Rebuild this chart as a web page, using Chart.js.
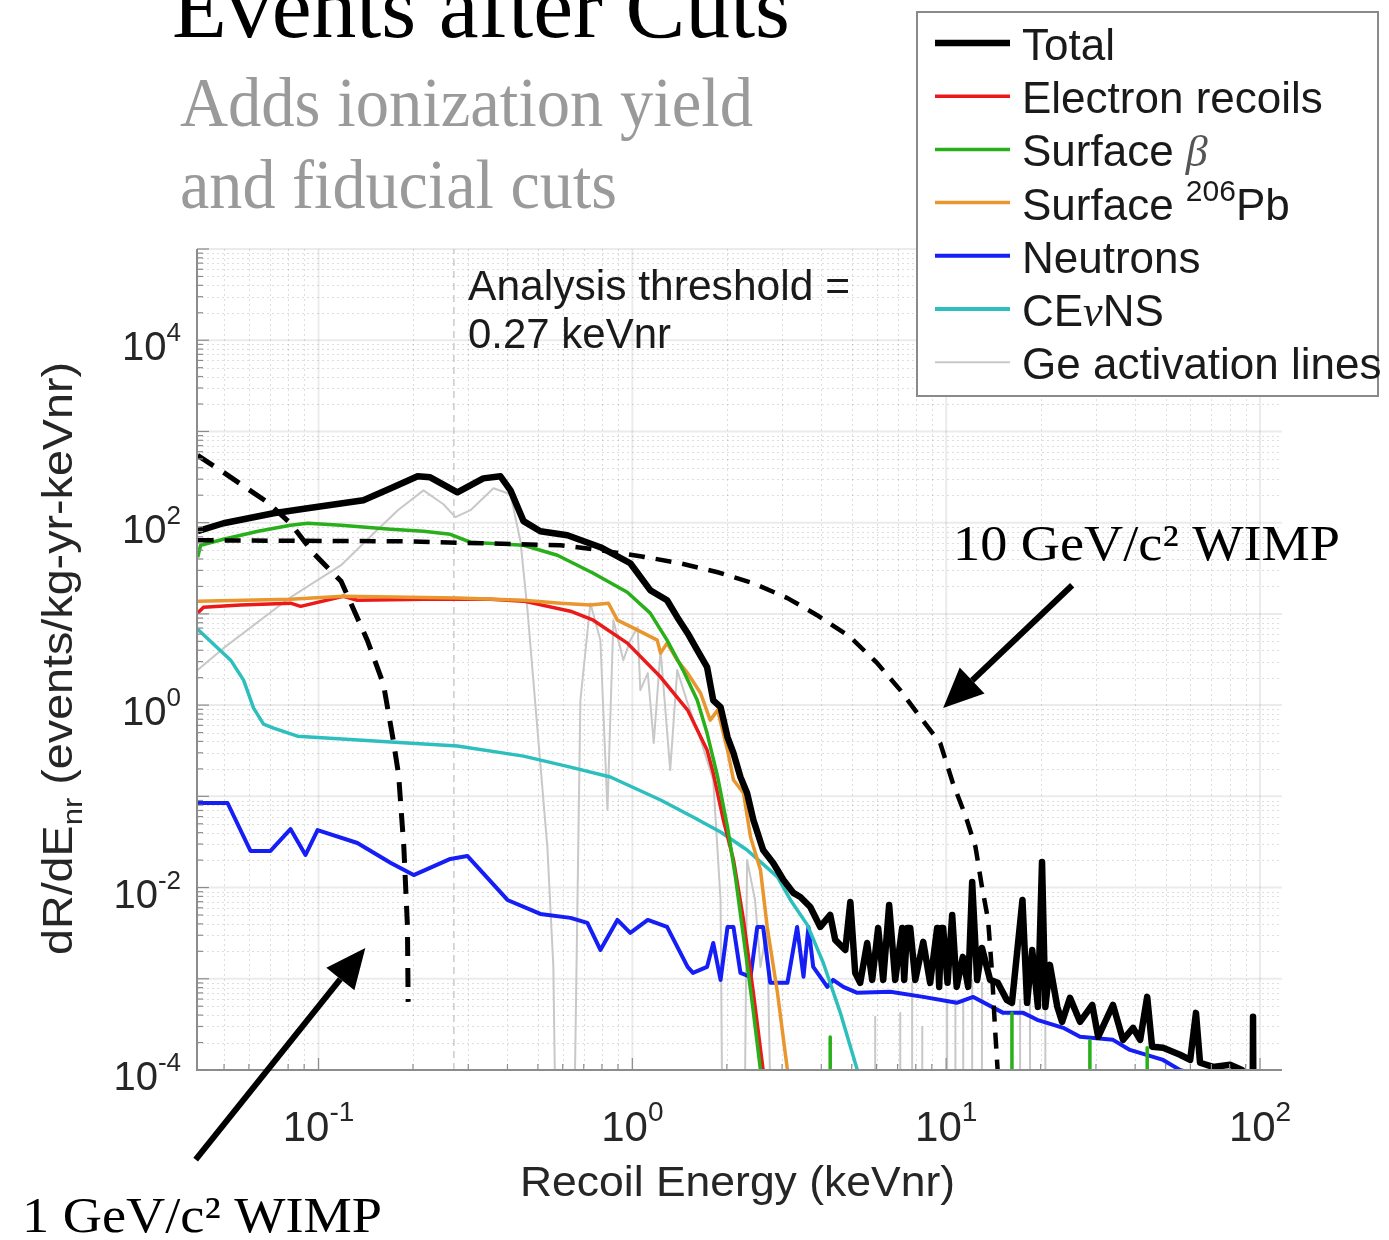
<!DOCTYPE html>
<html>
<head>
<meta charset="utf-8">
<title>Events after Cuts</title>
<script src="https://cdn.jsdelivr.net/npm/chart.js@4.4.1/dist/chart.umd.min.js"></script>
<style>
  html, body { margin: 0; padding: 0; background: #fff; }
  #wrap { position: relative; width: 1389px; height: 1240px; }
</style>
</head>
<body>
<div id="wrap"><canvas id="rates" width="1389" height="1240"></canvas></div>
<script>
// value used where a spectrum drops to zero (below the axis floor)
const OFF = 1e-6;

// recoil energy in keVnr, rate in events/kg-yr-keVnr
const totalE = [0.0412,0.0498,0.0719,0.0923,0.139,0.170,0.207,0.227,0.277,0.335,0.380,0.409,0.450,0.509,0.621,0.791,0.985,1.14,1.29,1.39,
  1.50,1.61,1.73,1.81,1.91,2.01,2.10,2.21,2.32,2.43,2.61,2.81,3.03,3.26,3.43,3.69,3.97,4.27,4.43,4.77,
  4.95,5.13,5.32,5.60,5.81,6.07,6.30,6.58,6.88,7.24,7.35,7.51,7.68,7.97,8.45,8.89,9.36,9.50,9.64,9.78,10.1,10.45,10.8,11.3,
  11.75,12.1,12.55,13.0,13.8,14.6,15.6,16.2,17.5,18.1,18.8,19.6,20.2,20.7,21.4,22.6,23.4,24.8,26.7,29.2,
  30.5,34.0,36.6,39.4,41.5,43.7,45.3,49.1,55.6,59.9,62.5,64.4,70.9,80.3,87.6,94.3,95.0,95.7];
const totalRate = [80.5,98.5,127,144,176,238,322,314,215,306,322,226,104,80.5,72.8,53.8,35.9,18.2,14.1,9.20,
  6.15,4.00,2.61,1.13,0.951,0.446,0.298,0.163,0.109,0.0550,0.0258,0.0186,0.0121,0.00873,0.00789,0.00613,0.00370,0.00501,0.00267,0.00207,
  0.00696,0.00116,0.000902,0.00247,0.000972,0.00361,0.000972,0.00645,0.000972,0.00361,0.000972,0.00361,0.00361,0.000972,0.00254,0.000902,0.00361,0.000815,0.00361,0.00361,0.000902,0.00501,0.000815,0.00174,
  0.000815,0.0115,0.000972,0.00218,0.000972,0.000902,0.000587,0.000545,0.00731,0.000545,0.00207,0.000492,0.0191,0.000492,0.00142,0.000492,0.000337,0.000618,0.000337,0.000518,
  0.000231,0.000518,0.000214,0.00029,0.000214,0.000633,0.00018,0.000175,0.000147,0.000129,0.000423,0.00012,0.000108,0.000114,0.0001,OFF,0.000383,OFF];

const erE = [0.0412,0.0430,0.0564,0.0814,0.0877,0.120,0.133,0.216,0.353,0.450,0.635,0.751,0.964,1.23,1.50,1.73,1.81,1.95,2.10,2.26,2.43,2.61,2.71];
const erRate = [10.2,11.8,12.5,13.1,12.1,15.6,14.1,14.5,14.5,13.8,10.7,8.53,4.78,2.03,0.882,0.322,0.180,0.0550,0.0201,0.00442,0.000701,0.0001,OFF];

const betaE = [0.0412,0.0421,0.0498,0.0642,0.0814,0.0923,0.118,0.170,0.216,0.263,0.305,0.450,0.577,0.751,0.964,1.14,1.29,1.45,1.61,1.73,1.87,2.01,2.13,2.26,2.41,2.56,2.61,
  4.27,4.27,4.27,16.2,16.2,16.2,28.7,28.7,28.7,43.7,43.7,43.7];
const betaRate = [41.8,56.6,65.8,80.5,93.7,98.5,93.7,84.7,80.5,74.6,61.0,56.6,43.9,27.9,17.3,10.2,5.15,2.42,1.13,0.494,0.163,0.0461,0.0131,0.00288,0.000545,0.0001,OFF,
  OFF,0.00023,OFF,OFF,0.00042,OFF,OFF,0.00021,OFF,OFF,0.000175,OFF];

const pbE = [0.0412,0.0814,0.120,0.277,0.450,0.590,0.735,0.839,0.896,1.04,1.20,1.23,1.29,1.39,1.50,1.65,1.77,1.87,2.01,2.10,2.26,2.38,2.56,2.69,2.90,3.12,3.19];
const pbRate = [13.8,14.5,15.6,14.9,14.1,13.1,12.5,13.1,8.53,6.63,5.15,3.71,4.78,3.11,2.24,1.35,0.685,0.882,0.322,0.151,0.109,0.0358,0.0156,0.0037,0.000701,0.0001,OFF];

const neutronE = [0.0412,0.0513,0.0607,0.0703,0.0814,0.0909,0.0993,0.133,0.170,0.201,0.263,0.298,0.400,0.509,0.635,0.719,0.791,0.896,0.985,1.12,
  1.29,1.50,1.56,1.73,1.81,1.91,2.01,2.10,2.21,2.38,2.50,2.61,2.75,3.12,3.35,3.51,3.64,3.77,3.97,4.18,
  4.36,4.70,5.21,6.63,8.45,10.8,12.2,15.2,17.6,19.5,23.6,26.7,34.0,38.5,49.1,55.6,63.0];
const neutronRate = [0.0845,0.0845,0.0252,0.0252,0.0438,0.0228,0.0427,0.0308,0.0186,0.0137,0.0206,0.0222,0.00731,0.00514,0.00465,0.00410,0.00207,0.00442,0.00318,0.00442,
  0.00370,0.00135,0.00116,0.00135,0.00247,0.000972,0.00370,0.00370,0.00116,0.00105,0.00370,0.00370,0.000902,0.000902,0.00370,0.00105,0.00370,0.00135,0.00105,0.000815,
  0.000972,0.000815,0.000701,0.000719,0.000633,0.000545,0.000633,0.000423,0.000423,0.000355,0.00029,0.000231,0.000214,0.000166,0.000129,0.0001,0.0000886];

const cevnsE = [0.0412,0.0525,0.0577,0.0621,0.0668,0.0719,0.0857,0.170,0.277,0.450,0.635,0.851,1.23,1.56,1.91,2.32,2.90,3.19,3.61,4.06,4.60,5.21,5.32];
const cevnsRate = [6.80,3.11,1.88,0.927,0.619,0.560,0.457,0.393,0.356,0.276,0.209,0.163,0.0911,0.0593,0.0406,0.0258,0.0131,0.00731,0.00390,0.00149,0.000423,0.0001,OFF];

const geE = [0.0412,0.0498,0.0814,0.118,0.150,0.179,0.216,0.250,0.273,0.305,0.361,0.409,0.440,0.463,0.498,0.536,0.560,0.577,
  0.644,0.683,0.735,0.791,0.833,0.870,0.936,0.985,1.04,1.06,1.12,1.17,1.23,1.32,1.39,1.50,1.65,1.81,1.91,1.95,
  2.26,2.32,2.46,2.56,2.69,2.81,
  5.94,5.94,5.94,7.14,7.14,7.14,7.79,7.79,7.79,8.39,8.39,8.39,10.07,10.07,10.07,10.7,10.7,10.7,
  11.33,11.33,11.33,12.1,12.1,12.1,13.0,13.0,13.0,17.2,17.2,17.2,18.5,18.5,18.5,20.7,20.7,20.7];
const geRate = [2.42,4.21,15.2,34.2,76.5,137,226,159,115,137,238,205,62.5,11.3,0.560,0.0278,0.00138,OFF,
  OFF,1.13,13.1,5.15,0.0708,8.53,3.11,5.15,7.15,1.46,2.24,0.384,4.00,0.194,2.42,1.05,0.414,0.151,0.00731,OFF,
  OFF,0.0201,0.00731,0.00135,0.0037,OFF,
  OFF,0.000383,OFF,OFF,0.000423,OFF,OFF,0.000902,OFF,OFF,0.000297,OFF,OFF,0.000587,OFF,OFF,0.000587,OFF,
  OFF,0.000587,OFF,OFF,0.000972,OFF,OFF,0.000902,OFF,OFF,0.000587,OFF,OFF,0.000755,OFF,OFF,0.000492,OFF];

const wimp10E = [0.0412,0.183,0.590,0.791,1.06,1.42,1.87,2.43,3.12,3.88,4.95,6.03,7.14,8.26,9.57,10.5,11.5,12.4,13.0,13.6,14.0,14.3,14.6];
const wimp10Rate = [64.1,62.5,56.6,49.9,42.9,35.9,28.6,21.7,14.9,9.68,5.56,2.88,1.46,0.74,0.384,0.140,0.0624,0.0278,0.0102,0.00442,0.00116,0.000297,0.0000949];

const wimp1E = [0.0412,0.0498,0.0688,0.0814,0.0964,0.118,0.143,0.161,0.173,0.180,0.187,0.192,0.193];
const wimp1Rate = [547,356,167,98.5,46.2,22.8,5.15,1.70,0.414,0.171,0.0278,0.0038,0.000558];

const THRESHOLD = 0.27;
const X_MIN = 0.041, X_MAX = 117.5, Y_MIN = 1e-4, Y_MAX = 1e5;
const X_TICKS = [0.1, 1, 10, 100];
const X_EXP = ['-1', '0', '1', '2'];
const Y_TICKS = [1e4, 1e2, 1, 1e-2, 1e-4];
const Y_EXP = ['4', '2', '0', '-2', '-4'];

const RED = 'rgb(235,25,25)', GREEN = 'rgb(40,175,25)', ORANGE = 'rgb(232,150,45)';
const BLUE = 'rgb(20,30,245)', CYAN = 'rgb(45,190,190)', GREY = '#c8c8c8';
const SANS = '"Liberation Sans", Arial, Helvetica, sans-serif';
const SERIF = '"Liberation Serif", "Times New Roman", serif';

const pts = (xs, ys) => xs.map((x, i) => ({ x, y: ys[i] }));

// text squeezed or stretched to a given width
function fitText(ctx, str, x, y, width, font, color) {
    ctx.font = font;
    ctx.fillStyle = color;
    ctx.textAlign = 'left';
    const w = ctx.measureText(str).width;
    ctx.save();
    ctx.translate(x, y);
    ctx.scale(width / w, 1);
    ctx.fillText(str, 0, 0);
    ctx.restore();
}

// "10" with a raised exponent
function power(ctx, exp, x, y, size, align) {
    const base = size + 'px ' + SANS, sup = Math.round(size * 0.66) + 'px ' + SANS;
    ctx.font = base; const w1 = ctx.measureText('10').width;
    ctx.font = sup; const w2 = ctx.measureText(exp).width;
    const x0 = align === 'right' ? x - w1 - w2 : x - (w1 + w2) / 2;
    ctx.textAlign = 'left';
    ctx.font = base; ctx.fillText('10', x0, y);
    ctx.font = sup; ctx.fillText(exp, x0 + w1, y - size * 0.47);
}

function arrow(ctx, x0, y0, x1, y1) {
    const ang = Math.atan2(y1 - y0, x1 - x0), L = 40, W = 18;
    const bx = x1 - L * Math.cos(ang), by = y1 - L * Math.sin(ang);
    ctx.strokeStyle = '#000'; ctx.fillStyle = '#000'; ctx.lineWidth = 6; ctx.setLineDash([]);
    ctx.beginPath(); ctx.moveTo(x0, y0); ctx.lineTo(bx, by); ctx.stroke();
    ctx.beginPath();
    ctx.moveTo(x1, y1);
    ctx.lineTo(bx + W * Math.sin(ang), by - W * Math.cos(ang));
    ctx.lineTo(bx - W * Math.sin(ang), by + W * Math.cos(ang));
    ctx.closePath(); ctx.fill();
}

// log grid positions k * 10^d inside [lo, hi]
function logSteps(lo, hi) {
    const out = [];
    for (let d = Math.floor(Math.log10(lo)); d <= Math.ceil(Math.log10(hi)); d++) {
        for (let k = 1; k <= 9; k++) {
            const v = k * Math.pow(10, d);
            if (v >= lo * 0.999 && v <= hi * 1.001) out.push({ v, major: k === 1 });
        }
    }
    return out;
}

const LEGEND = [
    { color: '#000', width: 6.5, parts: [['Total']] },
    { color: RED, width: 3.5, parts: [['Electron recoils']] },
    { color: GREEN, width: 3.5, parts: [['Surface '], ['β', 'it']] },
    { color: ORANGE, width: 3.5, parts: [['Surface '], ['206', 'sup'], ['Pb']] },
    { color: BLUE, width: 4, parts: [['Neutrons']] },
    { color: CYAN, width: 4, parts: [['CE'], ['ν', 'it'], ['NS']] },
    { color: GREY, width: 2, parts: [['Ge activation lines']] }
];

const decor = {
    id: 'decor',
    beforeDatasetsDraw(chart) {
        const { ctx, chartArea: a, scales: { x, y } } = chart;
        ctx.save();
        ctx.lineWidth = 1;
        // dotted minor grid first, solid decades on top
        ctx.setLineDash([2, 3]);
        ctx.strokeStyle = 'rgba(0,0,0,0.13)';
        logSteps(X_MIN, X_MAX).filter(s => !s.major).forEach(s => {
            const px = Math.round(x.getPixelForValue(s.v)) + 0.5;
            ctx.beginPath(); ctx.moveTo(px, a.top); ctx.lineTo(px, a.bottom); ctx.stroke();
        });
        logSteps(Y_MIN, Y_MAX).filter(s => !s.major).forEach(s => {
            const py = Math.round(y.getPixelForValue(s.v)) + 0.5;
            ctx.beginPath(); ctx.moveTo(a.left, py); ctx.lineTo(a.right, py); ctx.stroke();
        });
        ctx.setLineDash([]);
        ctx.strokeStyle = 'rgba(0,0,0,0.08)';
        ctx.lineWidth = 2;
        logSteps(X_MIN, X_MAX).filter(s => s.major).forEach(s => {
            const px = x.getPixelForValue(s.v);
            ctx.beginPath(); ctx.moveTo(px, a.top); ctx.lineTo(px, a.bottom); ctx.stroke();
        });
        logSteps(Y_MIN, Y_MAX).filter(s => s.major).forEach(s => {
            const py = y.getPixelForValue(s.v);
            ctx.beginPath(); ctx.moveTo(a.left, py); ctx.lineTo(a.right, py); ctx.stroke();
        });
        ctx.restore();
    },
    afterDraw(chart) {
        const { ctx, chartArea: a, scales: { x, y } } = chart;
        ctx.save();

        // axes with inward ticks
        ctx.strokeStyle = '#8c8c8c';
        ctx.lineWidth = 2;
        ctx.beginPath();
        ctx.moveTo(a.left, a.top); ctx.lineTo(a.left, a.bottom); ctx.lineTo(a.right, a.bottom);
        ctx.stroke();
        ctx.lineWidth = 1.2;
        logSteps(Y_MIN, Y_MAX).forEach(s => {
            const py = y.getPixelForValue(s.v), len = s.major ? 12 : 6;
            ctx.beginPath(); ctx.moveTo(a.left, py); ctx.lineTo(a.left + len, py); ctx.stroke();
        });
        logSteps(X_MIN, X_MAX).forEach(s => {
            const px = x.getPixelForValue(s.v), len = s.major ? 12 : 6;
            ctx.beginPath(); ctx.moveTo(px, a.bottom); ctx.lineTo(px, a.bottom - len); ctx.stroke();
        });

        // tick labels
        ctx.fillStyle = '#262626';
        Y_TICKS.forEach((v, i) => power(ctx, Y_EXP[i], 181, y.getPixelForValue(v) + 20, 40, 'right'));
        X_TICKS.forEach((v, i) => power(ctx, X_EXP[i], x.getPixelForValue(v), 1141, 42, 'center'));

        // axis titles
        fitText(ctx, 'Recoil Energy (keVnr)', 520, 1196, 435, '42px ' + SANS, '#262626');
        ctx.save();
        ctx.translate(72, 955);
        ctx.rotate(-Math.PI / 2);
        const yParts = [['dR/dE', 42, 0], ['nr', 28, 10], [' (events/kg-yr-keVnr)', 42, 0]];
        let len = 0;
        yParts.forEach(p => { ctx.font = p[1] + 'px ' + SANS; len += ctx.measureText(p[0]).width; });
        ctx.scale(593 / len, 1);
        let cx = 0;
        ctx.fillStyle = '#262626';
        ctx.textAlign = 'left';
        yParts.forEach(p => {
            ctx.font = p[1] + 'px ' + SANS;
            ctx.fillText(p[0], cx, p[2]);
            cx += ctx.measureText(p[0]).width;
        });
        ctx.restore();

        // headings
        fitText(ctx, 'Events after Cuts', 172, 37, 618, '88px ' + SERIF, '#000');
        fitText(ctx, 'Adds ionization yield', 180, 126, 573, '70px ' + SERIF, '#9a9a9a');
        fitText(ctx, 'and fiducial cuts', 180, 208, 437, '70px ' + SERIF, '#9a9a9a');

        // threshold note
        fitText(ctx, 'Analysis threshold =', 468, 300, 382, '42px ' + SANS, '#1a1a1a');
        fitText(ctx, '0.27 keVnr', 468, 348, 203, '42px ' + SANS, '#1a1a1a');

        // WIMP labels and arrows
        fitText(ctx, '10 GeV/c² WIMP', 953, 560, 387, '50px ' + SERIF, '#000');
        fitText(ctx, '1 GeV/c² WIMP', 22, 1232, 360, '50px ' + SERIF, '#000');
        arrow(ctx, x.getPixelForValue(25.2), y.getPixelForValue(20.6), x.getPixelForValue(9.78), y.getPixelForValue(0.927));
        arrow(ctx, x.getPixelForValue(0.0406), y.getPixelForValue(1.04e-5), x.getPixelForValue(0.141), y.getPixelForValue(0.00218));

        // legend box
        ctx.fillStyle = '#fff';
        ctx.fillRect(917, 12, 461, 384);
        ctx.strokeStyle = '#8a8a8a';
        ctx.lineWidth = 2;
        ctx.strokeRect(917, 12, 461, 384);
        LEGEND.forEach((row, i) => {
            const base = 60 + i * 53.2;
            ctx.strokeStyle = row.color;
            ctx.lineWidth = row.width;
            ctx.beginPath(); ctx.moveTo(935, base - 17); ctx.lineTo(1010, base - 17); ctx.stroke();
            let tx = 1022;
            ctx.textAlign = 'left';
            row.parts.forEach(([t, kind]) => {
                let dy = 0;
                if (kind === 'it') { ctx.font = 'italic 44px ' + SERIF; ctx.fillStyle = t === 'β' ? '#555' : '#1a1a1a'; }
                else if (kind === 'sup') { ctx.font = '30px ' + SANS; dy = -19; ctx.fillStyle = '#1a1a1a'; }
                else { ctx.font = '44px ' + SANS; ctx.fillStyle = '#1a1a1a'; }
                ctx.fillText(t, tx, base + dy);
                tx += ctx.measureText(t).width;
            });
        });
        ctx.restore();
    }
};

const datasets = [
    { label: 'Total', data: pts(totalE, totalRate), borderColor: '#000', borderWidth: 6.5 },
    { label: '10 GeV/c² WIMP', data: pts(wimp10E, wimp10Rate), borderColor: '#000', borderWidth: 4.5, borderDash: [16, 11] },
    { label: '1 GeV/c² WIMP', data: pts(wimp1E, wimp1Rate), borderColor: '#000', borderWidth: 5, borderDash: [19, 12] },
    { label: 'Surface β', data: pts(betaE, betaRate), borderColor: GREEN, borderWidth: 3.5 },
    { label: 'Surface 206Pb', data: pts(pbE, pbRate), borderColor: ORANGE, borderWidth: 3.5 },
    { label: 'Electron recoils', data: pts(erE, erRate), borderColor: RED, borderWidth: 3.5 },
    { label: 'CEνNS', data: pts(cevnsE, cevnsRate), borderColor: CYAN, borderWidth: 3.5 },
    { label: 'Neutrons', data: pts(neutronE, neutronRate), borderColor: BLUE, borderWidth: 4 },
    { label: 'Ge activation lines', data: pts(geE, geRate), borderColor: GREY, borderWidth: 2 },
    { label: 'Analysis threshold', data: [{ x: THRESHOLD, y: Y_MIN }, { x: THRESHOLD, y: Y_MAX }], borderColor: '#c4c4c4', borderWidth: 1.3, borderDash: [7, 5] }
];

new Chart(document.getElementById('rates'), {
    type: 'line',
    data: { datasets: datasets.map(d => ({ ...d, clip: 0, fill: false })) },
    options: {
        responsive: false,
        animation: false,
        devicePixelRatio: 1,
        layout: { padding: { left: 197, right: 107, top: 249, bottom: 170 } },
        elements: {
            point: { radius: 0, hoverRadius: 0 },
            line: { tension: 0, borderJoinStyle: 'round' }
        },
        scales: {
            x: { type: 'logarithmic', min: X_MIN, max: X_MAX, display: false },
            y: { type: 'logarithmic', min: Y_MIN, max: Y_MAX, display: false }
        },
        plugins: { legend: { display: false }, tooltip: { enabled: false } },
        events: []
    },
    plugins: [decor]
});
</script>
</body>
</html>
